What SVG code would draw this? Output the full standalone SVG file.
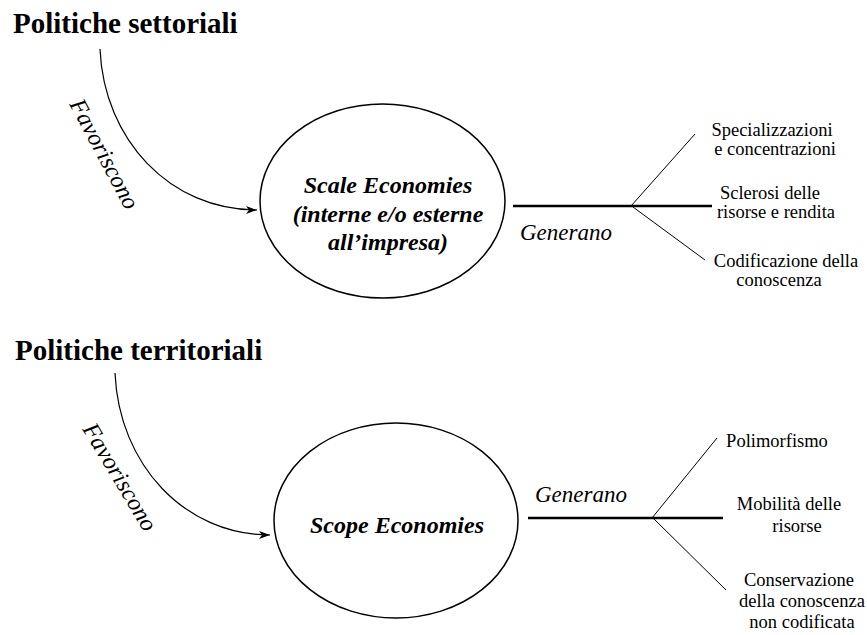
<svg xmlns="http://www.w3.org/2000/svg" width="867" height="635" viewBox="0 0 867 635">
<style>
.title{font-family:'Liberation Serif','Times New Roman',Tinos,'Nimbus Roman','DejaVu Serif',serif;font-weight:bold;font-size:29px;fill:#000}
.node{fill:#fff;stroke:#000;stroke-width:1.5}
.nl{font-family:'Liberation Serif','Times New Roman',Tinos,'Nimbus Roman','DejaVu Serif',serif;font-weight:bold;font-style:italic;font-size:24px;text-anchor:middle;fill:#000}
.lbl{font-family:'Liberation Serif','Times New Roman',Tinos,'Nimbus Roman','DejaVu Serif',serif;font-style:italic;font-size:23px;fill:#000}
.fav{font-family:'Liberation Serif','Times New Roman',Tinos,'Nimbus Roman','DejaVu Serif',serif;font-style:italic;font-size:24px;fill:#000}
.out{font-family:'Liberation Serif','Times New Roman',Tinos,'Nimbus Roman','DejaVu Serif',serif;font-size:18.5px;text-anchor:middle;fill:#000}
.curve{fill:none;stroke:#000;stroke-width:1.2}
.main{stroke:#000;stroke-width:2.5}
.br{stroke:#000;stroke-width:1}
</style>
<defs>
<marker id="arr" markerWidth="12" markerHeight="10" refX="11" refY="5" orient="auto" markerUnits="userSpaceOnUse">
<path d="M0,1 L11,5 L0,9 L3,5 Z" fill="#000"/>
</marker>
</defs>
<g id="title1"><text class="title" x="13" y="33">Politiche settoriali</text></g>
<g id="title2"><text class="title" x="15" y="360">Politiche territoriali</text></g>
<g id="connectors">
<path class="curve" d="M100,49 C104,140 170,210 257,210" marker-end="url(#arr)"/>
<path class="curve" d="M115,373 C119,465 185,535 270,535" marker-end="url(#arr)"/>
<line class="main" x1="513" y1="206" x2="712" y2="206"/>
<line class="br" x1="631" y1="206" x2="695" y2="134"/>
<line class="br" x1="633" y1="207" x2="705" y2="260"/>
<line class="main" x1="528" y1="518" x2="723" y2="518"/>
<line class="br" x1="652" y1="518" x2="717" y2="438"/>
<line class="br" x1="654" y1="519" x2="726" y2="590"/>
<text class="fav" transform="translate(69,104) rotate(62)">Favoriscono</text>
<text class="fav" transform="translate(82,429) rotate(59)">Favoriscono</text>
<text class="lbl" x="520" y="240">Generano</text>
<text class="lbl" x="535" y="502">Generano</text>
</g>
<g id="scale">
<ellipse class="node" cx="382.5" cy="201" rx="122.5" ry="97"/>
<text class="nl" x="388" y="193">Scale Economies</text>
<text class="nl" x="388" y="222">(interne e/o esterne</text>
<text class="nl" x="388" y="250">all’impresa)</text>
</g>
<g id="scope">
<ellipse class="node" cx="396" cy="520.5" rx="122" ry="97.5"/>
<text class="nl" x="397" y="533">Scope Economies</text>
</g>
<g id="out1">
<text class="out" x="772" y="136">Specializzazioni</text>
<text class="out" x="775" y="155">e concentrazioni</text>
</g>
<g id="out2">
<text class="out" x="770" y="199">Sclerosi delle</text>
<text class="out" x="776" y="218">risorse e rendita</text>
</g>
<g id="out3">
<text class="out" x="786" y="267">Codificazione della</text>
<text class="out" x="779" y="286">conoscenza</text>
</g>
<g id="out4">
<text class="out" x="777" y="447">Polimorfismo</text>
</g>
<g id="out5">
<text class="out" x="789" y="510">Mobilità delle</text>
<text class="out" x="797" y="532">risorse</text>
</g>
<g id="out6">
<text class="out" x="799" y="586">Conservazione</text>
<text class="out" x="802" y="607">della conoscenza</text>
<text class="out" x="802" y="628">non codificata</text>
</g>
</svg>
